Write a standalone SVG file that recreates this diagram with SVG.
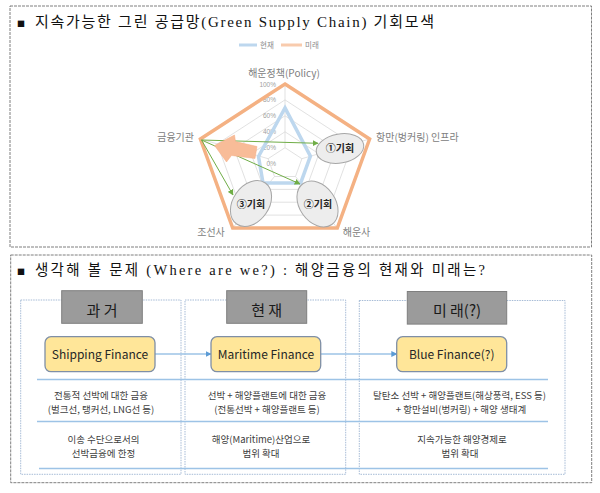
<svg xmlns="http://www.w3.org/2000/svg" width="600" height="493" viewBox="0 0 600 493">
<defs>
<style>
.frame{fill:none;stroke:#7f7f7f;stroke-width:1;stroke-dasharray:3 1}
.title{font-family:"Liberation Serif","Noto Sans CJK KR",serif;fill:#111}
.bullet{font-family:"Noto Sans CJK KR",sans-serif;fill:#111}
.kr{font-family:"Noto Sans CJK KR","Noto Sans",sans-serif}
.axis{font-size:10px;fill:#808080;text-anchor:start}
.tick{font-family:"Liberation Sans",sans-serif;font-size:6.5px;fill:#a0a0a0;text-anchor:end}
.grid{fill:none;stroke:#d9d9d9;stroke-width:0.8}
.opp{fill:#ededed;stroke:#a6a6a6;stroke-width:1}
.opptext{font-size:10px;font-weight:bold;fill:#262626;text-anchor:middle}
.green{stroke:#70ad47;stroke-width:1;fill:none;marker-end:url(#ga)}
.col{fill:none;stroke:#8faacc;stroke-width:0.8;stroke-dasharray:1.5 1}
.hdr{fill:#9b9b9b;stroke:#7f7f7f;stroke-width:1}
.hdrtext{font-size:15px;fill:#1a1a1a;text-anchor:middle}
.fin{fill:#ffe699;stroke:#7f8fa6;stroke-width:1.3}
.fintext{font-size:12px;fill:#262626;text-anchor:middle}
.sep{stroke:#9dc3e6;stroke-width:1.5}
.body{font-size:9.5px;fill:#404040;text-anchor:middle}
.flow{stroke:#9dc3e6;stroke-width:1.3;fill:none;marker-end:url(#ba)}
</style>
<marker id="ga" viewBox="0 0 10 10" refX="9" refY="5" markerWidth="6" markerHeight="6" orient="auto" markerUnits="userSpaceOnUse"><path d="M0,0 L10,5 L0,10 Z" fill="#70ad47"/></marker>
<marker id="ba" viewBox="0 0 10 10" refX="9" refY="5" markerWidth="6" markerHeight="6" orient="auto" markerUnits="userSpaceOnUse"><path d="M0,0 L10,5 L0,10 Z" fill="#5b9bd5"/></marker>
</defs>
<rect width="600" height="493" fill="#fff"/>

<!-- Top panel -->
<g id="panel-top">
<rect class="frame" x="10" y="6" width="581.5" height="241"/>
<text class="bullet" x="17" y="26.5" font-size="8">■</text>
<text class="title" x="35" y="27" font-size="15" textLength="399" lengthAdjust="spacing">지속가능한 그린 공급망(Green Supply Chain) 기회모색</text>
</g>

<g id="legend">
<line x1="239" y1="45" x2="257" y2="45" stroke="#bdd7ee" stroke-width="3"/>
<text class="kr" x="260" y="47.5" font-size="7.5" fill="#8c8c8c">현재</text>
<line x1="281" y1="45" x2="302" y2="45" stroke="#f8cbad" stroke-width="3"/>
<text class="kr" x="305" y="47.5" font-size="7.5" fill="#8c8c8c">미래</text>
</g>

<g id="radar-grid">
<polygon class="grid" points="285,99.9 352.7,143.9 326.9,215.1 243.1,215.1 217.3,143.9"/>
<polygon class="grid" points="285,115.8 335.8,148.8 316.4,202.2 253.6,202.2 234.2,148.8"/>
<polygon class="grid" points="285,131.8 318.9,153.8 305.9,189.4 264.1,189.4 251.1,153.8"/>
<polygon class="grid" points="285,147.7 301.9,158.7 295.5,176.5 274.5,176.5 268.1,158.7"/>
<path class="grid" d="M285,147.7 L285,84 M301.9,158.7 L369.6,139 M295.5,176.5 L337.3,228 M274.5,176.5 L232.7,228 M268.1,158.7 L200.4,139"/>
<text class="tick" x="276" y="86.5">100%</text>
<text class="tick" x="276" y="102.4">80%</text>
<text class="tick" x="276" y="118.3">60%</text>
<text class="tick" x="276" y="134.3">40%</text>
<text class="tick" x="276" y="150.2">20%</text>
<text class="tick" x="276" y="166.1">0%</text>
</g>

<g id="series-future">
<polygon points="285,84 369.6,139 337.3,228 232.7,228 200.4,139" fill="none" stroke="#f4b183" stroke-width="3.5" stroke-linejoin="miter"/>
</g>
<g id="series-present">
<polygon points="285,107.9 310.4,156.2 300.7,182.9 263,183 258.5,156.5" fill="none" stroke="#bdd7ee" stroke-width="3.5"/>
</g>

<g id="axis-labels" class="kr">
<text class="kr axis" x="284" y="76.5" text-anchor="middle" style="text-anchor:middle">해운정책(Policy)</text>
<text class="kr axis" x="376" y="141">항만(벙커링) 인프라</text>
<text class="kr axis" x="194" y="141" style="text-anchor:end">금융기관</text>
<text class="kr axis" x="211" y="236" style="text-anchor:middle">조선사</text>
<text class="kr axis" x="356.5" y="236" style="text-anchor:middle">해운사</text>
</g>

<g id="opportunity-1">
<ellipse class="opp" cx="340" cy="148.5" rx="24" ry="14.5" transform="rotate(-10 340 148.5)"/>
<text class="kr opptext" x="340" y="152">①기회</text>
</g>
<g id="opportunity-2">
<ellipse class="opp" cx="317.5" cy="204" rx="25" ry="18" transform="rotate(55 317.5 204)"/>
<text class="kr opptext" x="318" y="208">②기회</text>
</g>
<g id="opportunity-3">
<ellipse class="opp" cx="251" cy="203.5" rx="25" ry="18" transform="rotate(-55 251 203.5)"/>
<text class="kr opptext" x="251" y="208">③기회</text>
</g>

<g id="connectors-top">
<line class="green" x1="201.5" y1="140" x2="318" y2="143.3"/>
<line class="green" x1="201.5" y1="140" x2="300" y2="184"/>
<line class="green" x1="201.5" y1="140" x2="233" y2="195"/>
</g>

<g id="finance-arrow">
<path d="M214.5,145.5 L234.5,135 L235.5,141.5 L257,146.5 L255,158.5 L231.5,155.5 L226.5,162 Z" fill="#f8bc98" stroke="#f5ad84" stroke-width="0.5" stroke-linejoin="miter"/>
</g>

<!-- Bottom panel -->
<g id="panel-bottom">
<rect class="frame" x="10.7" y="255" width="581" height="227.7"/>
<text class="bullet" x="17" y="274.5" font-size="8">■</text>
<text class="title" x="35" y="275" font-size="14.5" textLength="450" lengthAdjust="spacing">생각해 볼 문제 (Where are we?) : 해양금융의 현재와 미래는?</text>
</g>

<g id="column-past">
<rect class="col" x="20.7" y="300" width="160.3" height="174.3"/>
</g>
<g id="column-present">
<rect class="col" x="185" y="300" width="160.7" height="174.3"/>
</g>
<g id="column-future">
<rect class="col" x="359.3" y="300.5" width="205.7" height="173.8"/>
</g>

<g id="separators">
<line class="sep" x1="37" y1="379.5" x2="548" y2="379.5"/>
<line class="sep" x1="37" y1="421.5" x2="548" y2="421.5"/>
<line class="sep" x1="39" y1="468.5" x2="548" y2="468.5"/>
</g>

<g id="header-past">
<rect class="hdr" x="61.7" y="290.7" width="80.6" height="32.6"/>
<text class="kr hdrtext" x="102" y="315.5">과 거</text>
</g>
<g id="header-present">
<rect class="hdr" x="226.7" y="290.7" width="80" height="32.6"/>
<text class="kr hdrtext" x="266.7" y="315.5">현 재</text>
</g>
<g id="header-future">
<rect class="hdr" x="407.3" y="291.5" width="99.4" height="32.6"/>
<text class="kr hdrtext" x="457" y="316">미 래(?)</text>
</g>

<g id="connectors-bottom">
<line class="flow" x1="155" y1="354" x2="211" y2="354"/>
<line class="flow" x1="320.7" y1="354" x2="396.7" y2="354"/>
</g>

<g id="shipping-finance">
<rect class="fin" x="45" y="336.7" width="110" height="35" rx="6"/>
<text class="kr fintext" x="100" y="358.5">Shipping Finance</text>
</g>
<g id="maritime-finance">
<rect class="fin" x="211" y="336.7" width="109.7" height="35" rx="6"/>
<text class="kr fintext" x="266" y="358.5">Maritime Finance</text>
</g>
<g id="blue-finance">
<rect class="fin" x="396.7" y="336.7" width="110" height="35" rx="6"/>
<text class="kr fintext" x="451.7" y="358.5">Blue Finance(?)</text>
</g>

<g id="text-past" class="kr">
<text class="kr body" x="101" y="398.5">전통적 선박에 대한 금융</text>
<text class="kr body" x="101" y="412.5">(벌크선, 탱커선, LNG선 등)</text>
<text class="kr body" x="103.5" y="442.5">이송 수단으로서의</text>
<text class="kr body" x="103.5" y="456.5">선박금융에 한정</text>
</g>
<g id="text-present" class="kr">
<text class="kr body" x="267" y="398.5">선박 + 해양플랜트에 대한 금융</text>
<text class="kr body" x="267" y="412.5">(전통선박 + 해양플랜트 등)</text>
<text class="kr body" x="261" y="442.5">해양(Maritime)산업으로</text>
<text class="kr body" x="261" y="456.5">범위 확대</text>
</g>
<g id="text-future" class="kr">
<text class="kr body" x="459.5" y="398.5">탈탄소 선박 + 해양플랜트(해상풍력, ESS 등)</text>
<text class="kr body" x="461" y="412.5">+ 항만설비(벙커링) + 해양 생태계</text>
<text class="kr body" x="462" y="442.5">지속가능한 해양경제로</text>
<text class="kr body" x="460" y="456.5">범위 확대</text>
</g>
</svg>
